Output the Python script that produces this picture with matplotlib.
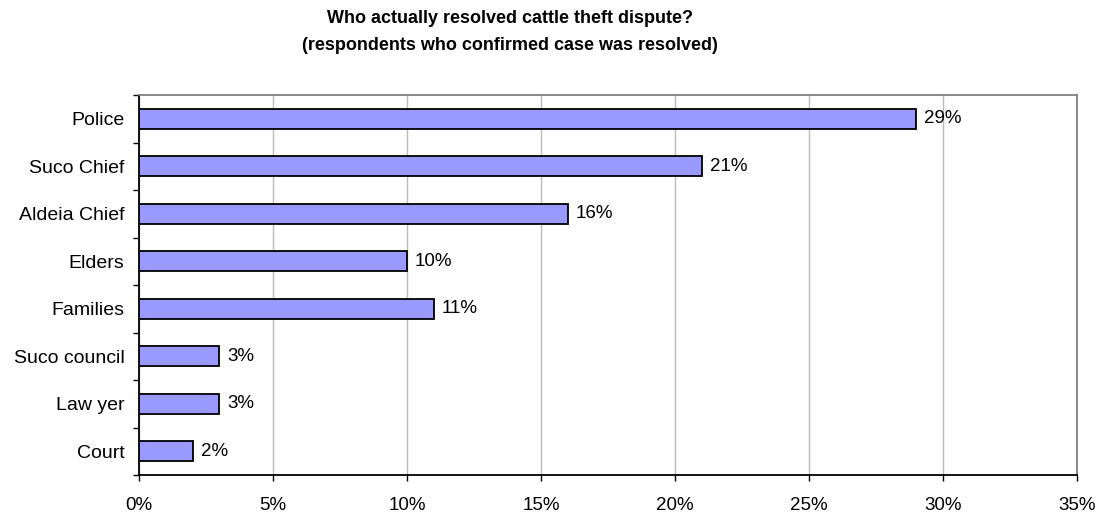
import matplotlib.pyplot as plt
from matplotlib.ticker import FixedLocator, FuncFormatter

plt.rcParams['font.family'] = ['Liberation Sans', 'DejaVu Sans']

categories = ['Police', 'Suco Chief', 'Aldeia Chief', 'Elders', 'Families',
              'Suco council', 'Law yer', 'Court']
values = [29, 21, 16, 10, 11, 3, 3, 2]
x_ticks = [0, 5, 10, 15, 20, 25, 30, 35]

fig = plt.figure(figsize=(11.02, 5.14), dpi=100)
ax = fig.add_axes([139 / 1102, 39 / 514, 938 / 1102, 380 / 514])

pos = list(range(len(categories)))
bars = ax.barh(pos, values, height=0.42, color='#9999FF', edgecolor='black',
               linewidth=1.3, zorder=3)
for b, v in zip(bars, values):
    ax.text(b.get_width() + 0.3, b.get_y() + b.get_height() / 2, f"{v}%",
            va='center', ha='left', fontsize=13.5)

ax.set_xlim(0, 35)
ax.set_ylim(len(categories) - 0.5, -0.5)
ax.set_xticks(x_ticks)
ax.xaxis.set_major_formatter(FuncFormatter(lambda x, p: f"{int(x)}%"))
ax.set_yticks(pos)
ax.set_yticklabels(categories)
ax.yaxis.set_minor_locator(FixedLocator([p + 0.5 for p in range(-1, len(categories))]))
ax.tick_params(axis='y', which='major', length=0, pad=10.5, labelsize=14)
ax.tick_params(axis='y', which='minor', length=4, width=1, direction='out')
ax.tick_params(axis='x', length=4, width=1, direction='out', pad=12, labelsize=13.5)
ax.grid(axis='x', color='#BBBBBB', linewidth=1, zorder=0)

for s in ['top', 'right']:
    ax.spines[s].set_color('#808080')
    ax.spines[s].set_linewidth(1.3)
for s in ['left', 'bottom']:
    ax.spines[s].set_color('black')
    ax.spines[s].set_linewidth(1.3)

fig.text(0.463, 0.964, "Who actually resolved cattle theft dispute?", ha='center',
         va='center', fontsize=13, fontweight='bold')
fig.text(0.463, 0.911, "(respondents who confirmed case was resolved)", ha='center',
         va='center', fontsize=13, fontweight='bold')

fig.savefig('out.png', dpi=100)
